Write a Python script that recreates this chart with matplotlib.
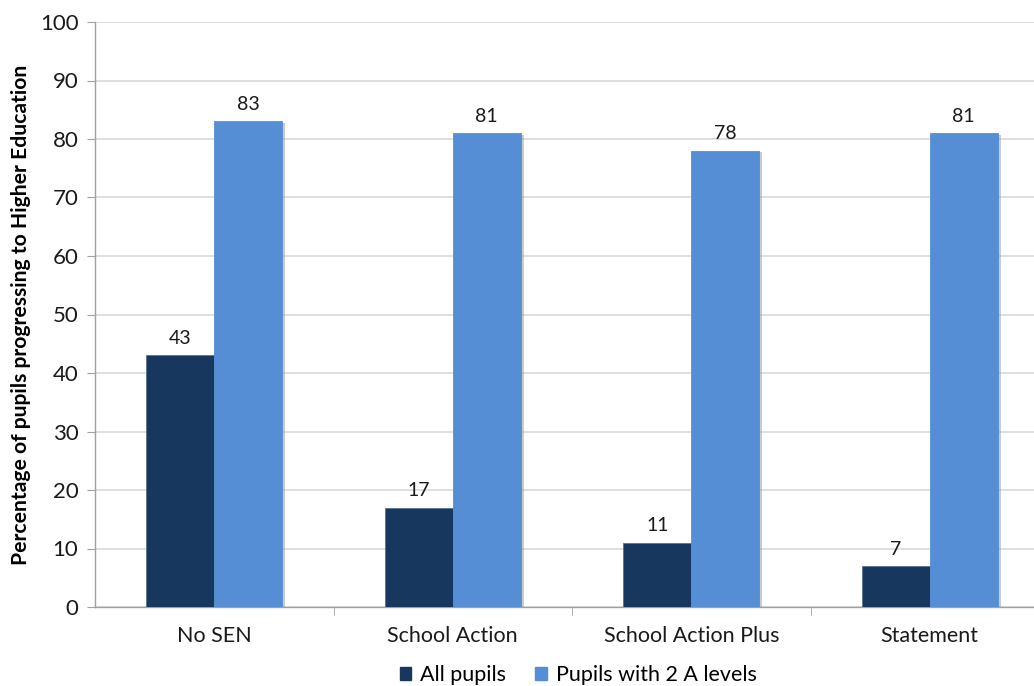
import numpy as np
import matplotlib.pyplot as plt
import matplotlib.patheffects as pe
from matplotlib.patches import Patch

# data
categories = ['No SEN', 'School Action', 'School Action Plus', 'Statement']
all_pupils = [43, 17, 11, 7]
two_a_levels = [83, 81, 78, 81]
series_names = ['All pupils', 'Pupils with 2 A levels']
colors = ['#17375e', '#558ed5']

plt.rcParams['font.family'] = ['Lato', 'DejaVu Sans']

fig = plt.figure(figsize=(10.34, 6.86), dpi=100)
ax = fig.add_axes([95/1034, 1 - 607/686, (1049 - 95)/1034, (607 - 22)/686])

x = np.arange(len(categories))
w = 0.285
shadow = [pe.SimplePatchShadow(offset=(2, -1), shadow_rgbFace='#999999', alpha=0.5), pe.Normal()]

b1 = ax.bar(x - w/2, all_pupils, w, color=colors[0], edgecolor='#5a7394', linewidth=0.6,
            zorder=3, path_effects=shadow)
b2 = ax.bar(x + w/2, two_a_levels, w, color=colors[1], edgecolor=colors[1], linewidth=0.6,
            zorder=3, path_effects=shadow)

for bars in (b1, b2):
    for r in bars:
        ax.annotate(f'{r.get_height():.0f}', (r.get_x() + r.get_width()/2, r.get_height()),
                    xytext=(0, 6), textcoords='offset points', ha='center', va='bottom',
                    fontsize=14, color='#1a1a1a')

ax.set_xlim(-0.5, len(categories) - 0.5)
ax.set_ylim(0, 100)
ax.set_yticks(range(0, 101, 10))
ax.yaxis.grid(True, color='#d9d9d9', linewidth=1.2, zorder=0)
ax.set_axisbelow(True)

ax.set_xticks(x)
ax.set_xticklabels(categories, fontsize=15.5)
ax.tick_params(axis='x', length=0, pad=14, colors='#1a1a1a')
ax.set_xticks(np.arange(0.5, len(categories) - 0.5, 1), minor=True)
ax.tick_params(axis='x', which='minor', length=6, direction='out', color='#a0a0a0')
ax.tick_params(axis='y', labelsize=16, length=6, color='#a0a0a0', labelcolor='#1a1a1a', pad=6)

for s in ['top', 'right']:
    ax.spines[s].set_visible(False)
for s in ['left', 'bottom']:
    ax.spines[s].set_color('#a0a0a0')
    ax.spines[s].set_linewidth(1)

ax.set_ylabel('Percentage of pupils progressing to Higher Education', fontsize=15.2,
              fontweight='bold', labelpad=6)

handles = [Patch(facecolor=c, edgecolor=c) for c in colors]
fig.legend(handles=handles, labels=series_names, loc='center',
           bbox_to_anchor=(578/1034, 1 - 675/686),
           ncol=2, frameon=False, fontsize=15.5, handlelength=0.55, handleheight=0.55,
           handletextpad=0.4, columnspacing=1.35)

fig.savefig('out.png', dpi=100)
